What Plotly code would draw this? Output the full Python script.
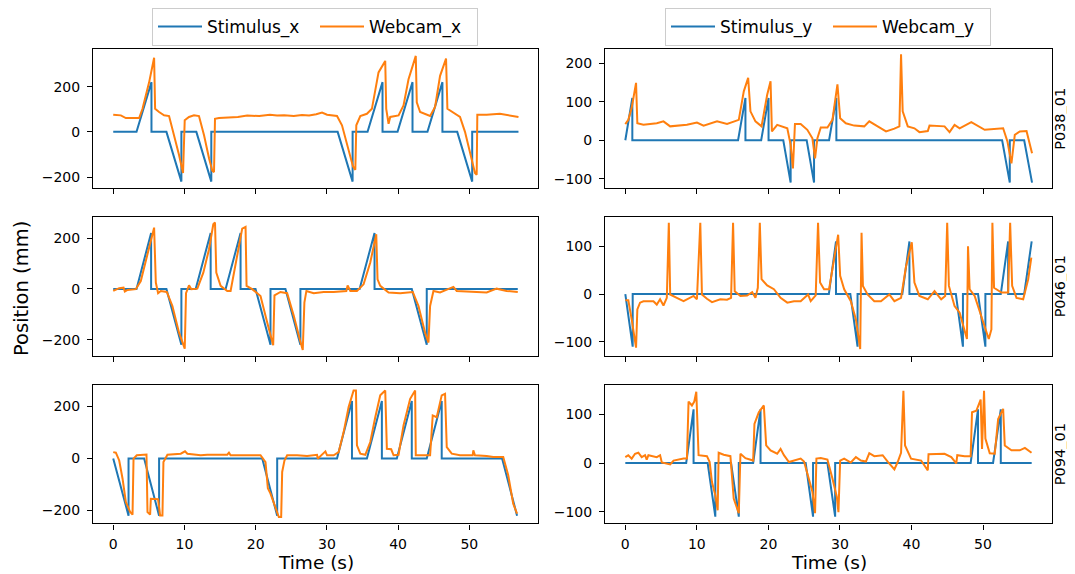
import plotly.graph_objects as go

# ---------------- data (time in s, position in mm) ----------------
# P038_01 horizontal
p038_stim_x_t = [0, 3.27, 5.37, 5.37, 7.47, 9.57, 9.57, 11.67, 13.77, 13.77, 31.51, 33.61, 33.61,
                 35.71, 37.81, 37.81, 39.92, 42.02, 42.02, 44.12, 46.22, 46.22, 48.3, 50.4, 50.4, 56.9]
p038_stim_x_v = [0, 0, 220, 0, 0, -220, 0, 0, -220, 0, 0, -220, 0,
                 0, 220, 0, 0, 220, 0, 0, 220, 0, 0, -220, 0, 0]
p038_cam_x_t = [0, 1.07, 1.77, 3.64, 4.11, 5.04, 5.74, 5.88, 6.44, 7.14, 7.84, 8.31, 9.24, 9.80, 10.04,
                10.64, 11.34, 12.04, 12.75, 13.45, 13.91, 14.15, 14.29, 14.85, 16.0, 17.5, 18.81, 20.5,
                22.0, 23.0, 24.0, 25.35, 26.5, 27.5, 28.5, 29.32, 30.02, 31.0, 31.42, 32.12, 33.05, 33.66,
                33.99, 34.13, 34.69, 35.62, 36.32, 37.25, 38.19, 38.33, 38.66, 38.89, 40.06, 40.76, 41.46,
                42.48, 42.62, 43.09, 44.49, 45.19, 45.89, 46.73, 46.92, 47.76, 48.69, 49.39, 50.33, 50.79,
                51.03, 51.12, 52.43, 54.29, 56.9]
p038_cam_x_v = [76, 73, 61, 61, 102, 219, 328, 102, 88, 73, 70, 15, -102, -182, 51,
                66, 73, 70, -15, -117, -172, -178, 58, 61, 62, 66, 72, 70,
                76, 72, 74, 70, 75, 72, 78, 85, 76, 72, 70, 29, -88, -153,
                -168, 29, 70, 80, 102, 263, 314, 102, 36, 66, 73, 117, 233,
                336, 131, 88, 70, 110, 248, 324, 102, 85, 66, 0, -131, -182,
                -190, 76, 76, 80, 66]

# P038_01 vertical
p038_stim_y_t = [0, 0.98, 0.98, 15.76, 16.79, 16.79, 18.99, 20.02, 20.02, 22.08, 23.11, 23.11,
                 25.35, 26.38, 26.38, 28.48, 29.5, 29.5, 52.67, 53.74, 53.74, 55.75, 56.85]
p038_stim_y_v = [0, 110, 0, 0, 110, 0, 0, 110, 0, 0, -110, 0,
                 0, -110, 0, 0, 110, 0, 0, -110, 0, 0, -110]
p038_cam_y_t = [0, 0.42, 0.89, 1.50, 1.68, 2.53, 4.40, 5.33, 6.27, 8.61, 10.01, 10.94, 12.82, 14.22,
                15.86, 16.56, 17.17, 17.49, 18.19, 19.04, 19.83, 20.30, 20.49, 21.23, 22.64, 23.11,
                23.43, 23.71, 24.51, 25.44, 26.15, 26.52, 26.85, 27.32, 28.25, 28.95, 29.65, 30.03,
                30.82, 31.99, 33.40, 34.10, 35.27, 36.44, 37.61, 38.31, 38.54, 38.77, 39.48, 40.41,
                41.11, 42.28, 42.52, 44.62, 45.32, 46.02, 46.73, 48.36, 50.23, 51.64, 52.81, 53.41,
                53.97, 54.44, 55.14, 56.08, 56.85]
p038_cam_y_v = [42, 53, 84, 149, 44, 40, 44, 49, 36, 40, 46, 38, 49, 42,
                53, 127, 162, 75, 49, 36, 118, 153, 23, 40, 31, -12,
                -73, 42, 42, 27, 5, -47, 5, 33, 33, 53, 145, 57,
                44, 38, 36, 49, 36, 23, 30, 36, 223, 75, 36, 31,
                21, 24, 38, 36, 21, 40, 31, 47, 27, 30, 31, -3,
                -60, 14, 23, 24, -34]

# P046_01 horizontal
p046_stim_x_t = [0, 3.27, 5.32, 5.32, 7.47, 9.57, 9.57, 11.58, 13.68, 13.68, 15.78, 17.88, 17.88,
                 19.98, 22.08, 22.08, 24.18, 26.28, 26.28, 34.59, 36.69, 36.69, 41.92, 44.02, 44.02, 56.8]
p046_stim_x_v = [0, 0, 220, 0, 0, -220, 0, 0, 220, 0, 0, 220, 0,
                 0, -220, 0, 0, -220, 0, 0, 220, 0, 0, -220, 0, 0]
p046_cam_x_t = [0, 0.84, 1.45, 1.63, 2.01, 3.17, 3.87, 5.04, 5.74, 5.98, 6.30, 6.68, 7.52, 8.31, 9.24,
                10.04, 10.22, 10.64, 10.97, 11.81, 12.65, 13.45, 14.05, 14.29, 14.47, 15.08, 16.01,
                16.48, 17.32, 18.11, 18.58, 18.72, 19.51, 20.68, 21.62, 22.46, 22.64, 23.48, 24.42,
                25.35, 26.19, 26.61, 26.84, 27.12, 28.15, 29.55, 30.95, 32.73, 32.91, 33.29, 34.22,
                35.15, 36.09, 36.93, 37.11, 37.49, 38.66, 40.29, 42.06, 42.86, 43.79, 44.26, 44.49,
                44.96, 45.89, 47.76, 48.23, 51.03, 52.43, 53.83, 55.23, 56.8]
p046_cam_x_v = [-8, 3, 5, -10, -4, -1, 31, 156, 241, 25, -17, -8, -12, -67, -172,
                -235, -17, 14, -1, 1, 64, 156, 254, 261, 64, 12, -8,
                -8, 117, 237, 244, 12, -1, -28, -132, -222, -25, -12, -17,
                -106, -198, -240, -54, -8, -17, -12, -12, -8, 14, -8, -8,
                18, 104, 215, 38, 12, -14, -17, -12, -67, -172, -211, -67,
                -8, -14, 8, -8, -12, -14, 1, -8, -12]

# P046_01 vertical
p046_stim_y_t = [0, 1.03, 1.03, 28.45, 29.45, 29.45, 31.45, 32.46, 32.46, 38.72, 39.71, 39.71,
                 46.2, 47.19, 47.19, 49.3, 50.33, 50.33, 52.48, 53.51, 53.51, 55.75, 56.8]
p046_stim_y_v = [0, -110, 0, 0, 110, 0, 0, -110, 0, 0, 110, 0,
                 0, -110, 0, 0, -110, 0, 0, 110, 0, 0, 110]
p046_cam_y_t = [0, 0.42, 0.89, 1.50, 1.68, 2.06, 2.53, 3.93, 4.40, 4.86, 5.33, 5.80, 6.08, 6.27, 7.20,
                8.14, 9.54, 10.01, 10.48, 10.71, 11.41, 12.11, 13.28, 14.22, 14.78, 15.06, 15.29, 16.09,
                17.03, 17.73, 18.19, 18.52, 18.80, 19.04, 19.83, 20.77, 21.70, 22.64, 23.57, 24.51,
                25.54, 25.91, 26.61, 26.94, 27.22, 27.78, 28.48, 29.19, 29.75, 30.03, 30.59, 31.52,
                32.23, 32.83, 33.02, 33.21, 33.86, 34.80, 35.73, 36.90, 37.61, 38.54, 39.24, 40.04,
                40.41, 41.11, 42.28, 43.22, 44.15, 44.71, 44.99, 45.23, 46.02, 46.73, 47.43, 47.75,
                47.90, 48.13, 48.83, 49.77, 50.80, 51.17, 51.31, 51.54, 52.57, 53.51, 53.79, 54.07,
                54.68, 55.61, 56.31, 56.75]
p046_cam_y_v = [-13, -13, -53, -112, -32, -18, -15, -15, -22, -11, -24, -8, 149, -1, -8,
                -15, -4, -11, 149, -1, -10, -17, -11, -12, -8, 149, 6, -4,
                -3, 4, -8, 13, 149, 31, 18, 10, -8, -18, -15, -15,
                -1, -15, -3, 149, 24, 10, 10, 72, 124, 38, 10, -15,
                -53, -115, 128, 17, -1, -15, -15, -1, -15, -8, 58, 108,
                24, -4, -11, 6, -11, -4, 149, 17, -25, -39, -81, -94,
                100, 10, -4, -46, -94, -74, 149, 13, 3, 3, 149, 17,
                -8, -11, 31, 76]

# P094_01 horizontal
p094_stim_x_t = [0, 2.15, 2.15, 4.34, 6.44, 6.44, 20.92, 23.02, 23.02, 31.42, 33.52, 33.52,
                 35.62, 37.72, 37.72, 39.82, 41.92, 41.92, 44.02, 46.12, 46.12, 54.6, 56.7]
p094_stim_x_v = [0, -220, 0, 0, -220, 0, 0, -220, 0, 0, 220, 0,
                 0, 220, 0, 0, 220, 0, 0, 220, 0, 0, -220]
p094_cam_x_t = [0, 0.37, 0.84, 1.31, 1.77, 2.38, 2.71, 2.85, 3.31, 4.11, 4.67, 4.81, 5.18, 5.28, 5.74,
                6.30, 6.58, 6.91, 7.05, 7.61, 9.48, 10.08, 10.41, 12.28, 13.21, 16.01, 16.25, 16.48,
                18.81, 20.68, 21.38, 21.71, 22.08, 22.78, 23.25, 23.58, 23.72, 24.04, 24.42, 25.82,
                27.22, 28.62, 28.71, 29.79, 30.02, 30.95, 31.65, 32.35, 33.05, 33.75, 34.08, 34.22,
                34.69, 35.39, 36.09, 36.79, 37.49, 38.19, 38.42, 39.03, 39.36, 40.06, 40.76, 41.69,
                42.39, 42.48, 43.09, 44.49, 44.86, 45.42, 46.12, 46.59, 46.83, 47.53, 48.69, 50.47,
                50.56, 50.79, 52.43, 53.36, 54.76, 55.46, 56.16, 56.7]
p094_cam_x_v = [24, 22, -8, -78, -167, -206, -216, -1, 12, 15, 15, -206, -216, -155, -155,
                -157, -219, -219, -14, 14, 18, 27, 18, 12, 14, 14, 22, 12,
                12, 12, -14, -115, -135, -187, -225, -225, -52, -8, 12, 12,
                9, 14, -1, 27, 12, 12, 24, 101, 197, 261, 261, 50,
                18, 14, 63, 158, 242, 261, 37, 35, 12, 14, 127, 229,
                261, 12, 12, 12, 165, 158, 242, 248, 43, 18, 12, 12,
                31, 12, 9, 5, 5, -65, -174, -212]

# P094_01 vertical
p094_stim_y_t = [0, 8.51, 9.54, 9.54, 11.51, 12.58, 12.58, 14.78, 15.86, 15.86, 17.87, 18.9, 18.9,
                 25.21, 26.24, 26.24, 28.25, 29.33, 29.33, 48.27, 49.3, 49.3, 51.4, 52.48, 52.48, 56.8]
p094_stim_y_v = [0, 0, 110, 0, 0, -110, 0, 0, -110, 0, 0, 110, 0,
                 0, -110, 0, 0, -110, 0, 0, 110, 0, 0, 110, 0, 0]
p094_cam_y_t = [0, 0.42, 0.89, 1.36, 1.82, 2.29, 2.76, 2.99, 3.23, 4.40, 4.86, 5.10, 6.27, 6.74, 8.14,
                8.61, 8.84, 9.31, 9.64, 9.92, 10.24, 11.41, 11.79, 12.11, 12.58, 12.91, 13.05, 13.75,
                14.69, 15.15, 15.86, 16.09, 16.79, 17.87, 18.05, 18.66, 19.36, 19.69, 20.30, 21.23,
                21.70, 22.17, 22.87, 23.57, 24.51, 24.98, 25.54, 26.15, 26.52, 26.71, 27.32, 28.25,
                28.95, 29.56, 29.79, 30.03, 30.59, 31.52, 32.23, 32.93, 33.63, 34.10, 34.80, 35.97,
                36.67, 37.61, 38.07, 38.54, 38.87, 39.10, 39.94, 41.35, 41.81, 42.28, 42.38, 44.62,
                45.56, 46.26, 46.40, 47.43, 48.27, 48.46, 49.06, 49.67, 49.86, 50.14, 50.33, 50.94,
                51.64, 52.11, 52.81, 53.04, 53.97, 55.14, 55.85, 56.78]
p094_cam_y_v = [12, 16, 9, 19, 21, 12, 16, 7, 16, 12, 16, 1, -3, 5, 9,
                9, 126, 118, 126, 146, 16, 14, 2, -39, -66, -97, 21, 17,
                14, -73, -103, 19, 10, 5, 80, 104, 118, 36, 26, 19,
                29, 16, 2, 5, 9, 3, -25, -59, -103, 9, 10, 7,
                -32, -69, -101, 5, 9, 1, 12, 5, 3, 20, 14, 16,
                3, -13, 2, 21, 148, 36, 9, 5, -5, -15, 18, 19,
                12, -1, 16, 14, 14, 104, 107, 130, 29, 148, 50, 20,
                19, 90, 111, 36, 26, 26, 31, 21]

participants = ["P038_01", "P046_01", "P094_01"]
y_ranges_x = [[-250, 365], [-263, 283], [-250, 282]]
y_ranges_y = [[-125, 236], [-129, 161], [-124, 160]]
x_range = [-2.84, 59.64]

BLUE = "#1f77b4"
ORANGE = "#ff7f0e"
FONT = "DejaVu Sans"
# the page body has an 8 px margin; the figure starts at (8, 8) in the window
OFF = 8
W, H = 1075 - 2 * OFF, 574 - OFF

panels = [
    (p038_stim_x_t, p038_stim_x_v, p038_cam_x_t, p038_cam_x_v),
    (p038_stim_y_t, p038_stim_y_v, p038_cam_y_t, p038_cam_y_v),
    (p046_stim_x_t, p046_stim_x_v, p046_cam_x_t, p046_cam_x_v),
    (p046_stim_y_t, p046_stim_y_v, p046_cam_y_t, p046_cam_y_v),
    (p094_stim_x_t, p094_stim_x_v, p094_cam_x_t, p094_cam_x_v),
    (p094_stim_y_t, p094_stim_y_v, p094_cam_y_t, p094_cam_y_v),
]

# window-pixel layout of the axes boxes
col_px = [(93, 538), (605, 1052)]
row_px = [(47.5, 187), (215.7, 355), (384.3, 523.3)]


def px(xw):
    return (xw - OFF) / W


def py(yw):
    return 1 - (yw - OFF) / H


def xdom(c):
    return [px(col_px[c][0]), px(col_px[c][1])]


def ydom(r):
    return [py(row_px[r][1]), py(row_px[r][0])]


fig = go.Figure()
layout = {}
for i, (st, sv, ct, cv) in enumerate(panels):
    r, c = divmod(i, 2)
    n = i + 1
    xa = "x" if n == 1 else f"x{n}"
    ya = "y" if n == 1 else f"y{n}"
    leg = "legend" if c == 0 else "legend2"
    axis_name = "x" if c == 0 else "y"
    fig.add_trace(go.Scatter(x=st, y=sv, mode="lines", line=dict(color=BLUE, width=2),
                             name=f"Stimulus_{axis_name}", xaxis=xa, yaxis=ya,
                             legend=leg, showlegend=(r == 0)))
    fig.add_trace(go.Scatter(x=ct, y=cv, mode="lines", line=dict(color=ORANGE, width=2),
                             name=f"Webcam_{axis_name}", xaxis=xa, yaxis=ya,
                             legend=leg, showlegend=(r == 0)))
    common = dict(showline=True, linecolor="black", linewidth=1.1, mirror=True,
                  ticks="outside", ticklen=5, tickwidth=1.1, tickcolor="black",
                  showgrid=False, zeroline=False,
                  tickfont=dict(size=14, family=FONT, color="black"))
    layout["xaxis" if n == 1 else f"xaxis{n}"] = dict(
        domain=xdom(c), anchor=ya, range=x_range, tick0=0, dtick=10,
        showticklabels=(r == 2), ticklabelstandoff=3, **common)
    layout["yaxis" if n == 1 else f"yaxis{n}"] = dict(
        domain=ydom(r), anchor=xa,
        range=(y_ranges_x if c == 0 else y_ranges_y)[r],
        tick0=0, dtick=200 if c == 0 else 100, ticklabelstandoff=4, **common)

fig.update_layout(**layout)

annotations = [
    dict(text="Position (mm)", x=px(21), y=py(288), textangle=-90,
         font=dict(size=19.5, family=FONT, color="black")),
]
for c in range(2):
    annotations.append(dict(text="Time (s)", x=px(sum(col_px[c]) / 2), y=py(562.5),
                            font=dict(size=18.5, family=FONT, color="black")))
for r, name in enumerate(participants):
    annotations.append(dict(text=name, x=px(1060), y=py(sum(row_px[r]) / 2), textangle=-90,
                            font=dict(size=14.5, family=FONT, color="black")))
for a in annotations:
    a.update(xref="paper", yref="paper", showarrow=False, xanchor="center", yanchor="middle",
             borderpad=0)

legend_style = dict(orientation="h", yanchor="top", y=py(6), xanchor="center",
                    bordercolor="#cccccc", borderwidth=1, bgcolor="white",
                    font=dict(size=17, family=FONT, color="black"),
                    itemwidth=44, entrywidth=103, entrywidthmode="pixels")
fig.update_layout(
    width=W, height=H,
    margin=dict(l=0, r=0, t=0, b=0),
    paper_bgcolor="white", plot_bgcolor="white",
    font=dict(family=FONT, color="black"),
    legend=dict(x=px(315), **legend_style),
    legend2=dict(x=px(828), **legend_style),
    annotations=annotations,
)

fig.write_html("out.html")
